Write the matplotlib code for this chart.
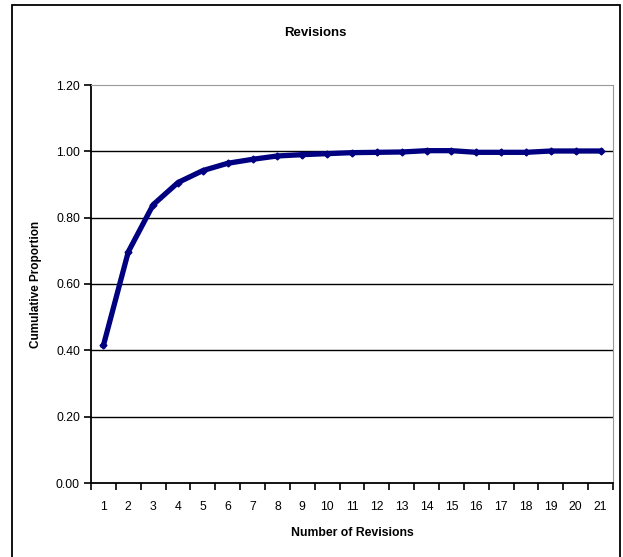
import matplotlib.pyplot as plt
import numpy as np
from matplotlib.patches import Rectangle

plt.rcParams['font.family'] = ['Liberation Sans Narrow', 'Liberation Sans', 'DejaVu Sans']

revisions = list(range(1, 22))
cum_prop = [0.415, 0.697, 0.839, 0.906, 0.942, 0.964, 0.976, 0.986, 0.990, 0.993,
            0.996, 0.997, 0.998, 1.002, 1.002, 0.997, 0.997, 0.997, 1.001, 1.001, 1.001]
yticks = [0.0, 0.2, 0.4, 0.6, 0.8, 1.0, 1.2]

fig = plt.figure(figsize=(6.23, 5.57), dpi=100)
ax = fig.add_axes([91 / 623, 1 - 483 / 557, 522 / 623, 398 / 557])

# outer chart border (bottom edge runs off the image)
fig.patches.append(Rectangle((12 / 623, -10 / 557), 608 / 623, 562 / 557, transform=fig.transFigure,
                             fill=False, edgecolor='black', linewidth=1.3))

x = np.arange(len(revisions))
for yv in yticks[1:-1]:
    ax.axhline(yv, color='black', linewidth=1.0, zorder=1)
ax.plot(x, cum_prop, color='#000080', linewidth=3.8, marker='D', markersize=3.5, zorder=3)

ax.set_xlim(-0.5, len(revisions) - 0.5)
ax.set_ylim(0, 1.2)
ax.set_yticks(yticks)
ax.set_yticklabels([f"{v:.2f}" for v in yticks], fontsize=8.8)
ax.set_xticks(x)
ax.set_xticklabels([str(r) for r in revisions], fontsize=8.8)
ax.tick_params(axis='x', length=0, pad=13)
ax.set_xticks(np.arange(len(revisions) + 1) - 0.5, minor=True)
ax.tick_params(axis='x', which='minor', length=5, width=1.2, direction='out')
ax.tick_params(axis='y', length=5, width=1.2, direction='out', pad=3)

for s in ['left', 'bottom']:
    ax.spines[s].set_color('black')
    ax.spines[s].set_linewidth(1.3)
for s in ['top', 'right']:
    ax.spines[s].set_color('#999999')
    ax.spines[s].set_linewidth(0.8)

fig.text(315 / 623, 1 - 33 / 557, 'Revisions', ha='center', va='center', fontsize=9.5, fontweight='bold')
ax.set_xlabel('Number of Revisions', fontsize=8.8, fontweight='bold', labelpad=10)
ax.set_ylabel('Cumulative Proportion', fontsize=8.5, fontweight='bold', labelpad=10)

fig.savefig('out.png', dpi=100)
